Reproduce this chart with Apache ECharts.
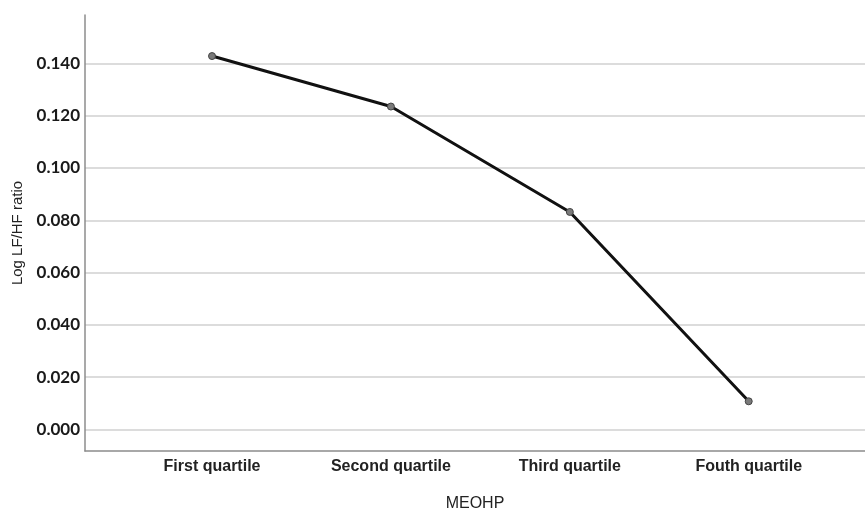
<!DOCTYPE html>
<html>
<head>
<meta charset="utf-8">
<script src="https://cdn.jsdelivr.net/npm/echarts@6/dist/echarts.min.js"></script>
<style>html,body{margin:0;padding:0;background:#fff;}#c{width:865px;height:517px;}</style>
</head>
<body>
<div id="c"></div>
<script>
const categories = ["First quartile", "Second quartile", "Third quartile", "Fouth quartile"];
const values = [0.1428, 0.1235, 0.0832, 0.0108];
const yTicks = [0, 0.02, 0.04, 0.06, 0.08, 0.10, 0.12, 0.14];
const xName = "MEOHP";
const yName = "Log LF/HF ratio";

const positions = categories.map((c, i) => i + 1);
const chart = echarts.init(document.getElementById('c'), null, {renderer: 'canvas'});
chart.setOption({
  animation: false,
  backgroundColor: '#ffffff',
  grid: {left: 85, right: 0, top: 15, bottom: 60, containLabel: false},
  xAxis: {
    type: 'value',
    min: 0.29, max: 4.65,
    name: xName, nameLocation: 'middle', nameGap: 45,
    nameTextStyle: {fontFamily: 'Liberation Sans', fontSize: 16, color: '#222', fontWeight: 'normal'},
    axisLine: {show: true, onZero: false, lineStyle: {color: '#8c8c8c', width: 1.5}},
    axisTick: {show: false, customValues: positions},
    splitLine: {show: false},
    axisLabel: {
      customValues: positions, margin: 8,
      fontFamily: 'Liberation Sans', fontSize: 16, color: '#222', fontWeight: 'bold',
      formatter: v => categories[Math.round(v) - 1] || ''
    }
  },
  yAxis: {
    type: 'value',
    min: -0.0082, max: 0.1585,
    name: yName, nameLocation: 'middle', nameGap: 58, nameRotate: 90,
    nameTextStyle: {fontFamily: 'Liberation Sans', fontSize: 15, color: '#222'},
    axisLine: {show: true, lineStyle: {color: '#8c8c8c', width: 1.5}},
    axisTick: {show: false, customValues: yTicks},
    axisLabel: {
      customValues: yTicks, margin: 5,
      fontFamily: 'Lato', fontSize: 17, fontWeight: 'bold', color: '#1a1a1a',
      formatter: v => v.toFixed(3)
    },
    splitLine: {show: true, lineStyle: {color: '#dcdcdc', width: 2}}
  },
  series: [{
    type: 'line',
    data: positions.map((p, i) => [p, values[i]]),
    symbol: 'circle', symbolSize: 7,
    lineStyle: {color: '#111', width: 3},
    itemStyle: {color: '#7a7a7a', borderColor: '#444', borderWidth: 1},
    z: 3
  }]
});
</script>
</body>
</html>
